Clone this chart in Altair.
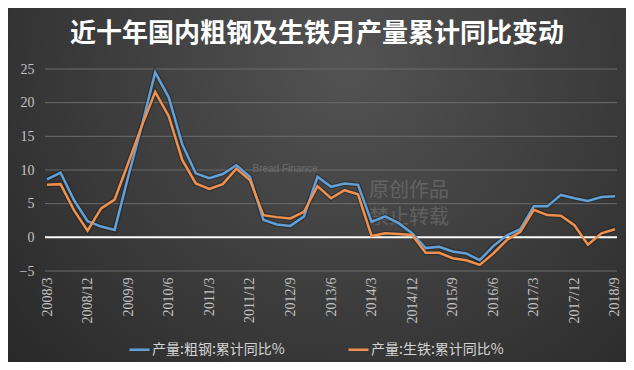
import altair as alt
import pandas as pd

title_text = "近十年国内粗钢及生铁月产量累计同比变动"
dates = [f"{y}/{m}" for y in range(2008, 2019) for m in (3, 6, 9, 12)][:43]
tick_labels = dates[::3]
steel_name = "产量:粗钢:累计同比%"
iron_name = "产量:生铁:累计同比%"
steel = [8.6, 9.6, 5.5, 2.4, 1.6, 1.1, 9.0, 16.5, 24.5, 20.8, 13.8, 9.5, 8.8, 9.4,
         10.7, 9.0, 2.6, 1.9, 1.7, 3.1, 9.0, 7.5, 8.0, 7.8, 2.3, 3.1, 2.1, 0.6,
         -1.6, -1.4, -2.1, -2.4, -3.4, -1.3, 0.3, 1.2, 4.6, 4.6, 6.3, 5.8, 5.4, 6.0, 6.1]
iron = [7.8, 7.9, 4.0, 1.0, 4.3, 5.6, 11.0, 16.5, 21.6, 18.0, 11.5, 8.0, 7.2, 7.9,
        10.2, 8.5, 3.3, 3.0, 2.8, 3.8, 7.6, 5.8, 7.0, 6.4, 0.2, 0.6, 0.5, 0.35,
        -2.3, -2.3, -3.1, -3.4, -4.1, -2.4, -0.4, 0.8, 4.1, 3.3, 3.2, 1.8, -1.1, 0.6, 1.2]
y_ticks = [-5, 0, 5, 10, 15, 20, 25]
grid_values = [-5, 5, 10, 15, 20, 25]
watermark_1 = ["原创作品"]
watermark_2 = ["禁止转载"]
brand = ["Bread Finance"]

BLUE = "#62a0d8"
ORANGE = "#f0904e"

rows = []
for d, s, i in zip(dates, steel, iron):
    rows.append({"date": d, "series": steel_name, "value": s})
    rows.append({"date": d, "series": iron_name, "value": i})
df = pd.DataFrame(rows)

W, H = 572, 202
PL, PT, PR, PB = 37, 61, 9, 91

bg = alt.Chart(pd.DataFrame({"k": [0]})).mark_rect(
    fill={
        "gradient": "radial",
        "stops": [{"offset": 0, "color": "#535353"}, {"offset": 1, "color": "#262626"}],
        "x1": 0.55, "y1": 0.3, "r1": 0,
        "x2": 0.55, "y2": 0.3, "r2": 0.78,
    }
).encode(
    x=alt.value(-PL), x2=alt.value(W + PR), y=alt.value(-PT), y2=alt.value(H + PB)
)

title_layer = alt.Chart(pd.DataFrame({"t": [title_text]})).mark_text(
    font="Noto Sans CJK SC", fontSize=26, fontWeight="bold", color="#ffffff",
    align="center", baseline="middle"
).encode(x=alt.value(272), y=alt.value(-35), text="t:N")

wm1 = alt.Chart(pd.DataFrame({"t": watermark_1})).mark_text(
    font="Noto Sans CJK SC", fontSize=20, color="#ffffff", opacity=0.15,
    align="center", baseline="middle"
).encode(x=alt.value(364), y=alt.value(122), text="t:N")

wm2 = alt.Chart(pd.DataFrame({"t": watermark_2})).mark_text(
    font="Noto Sans CJK SC", fontSize=20, color="#ffffff", opacity=0.15,
    align="center", baseline="middle"
).encode(x=alt.value(364), y=alt.value(149), text="t:N")

wm3 = alt.Chart(pd.DataFrame({"t": brand})).mark_text(
    font="Liberation Sans", fontSize=10, color="#ffffff", opacity=0.18,
    align="center", baseline="middle"
).encode(x=alt.value(240), y=alt.value(100), text="t:N")

x_enc = alt.X(
    "date:O", sort=dates, scale=alt.Scale(type="point", padding=0.15),
    axis=alt.Axis(values=tick_labels, labelAngle=-90, title=None, ticks=False, domain=False,
                  grid=False, labelFont="Liberation Serif", labelFontSize=14,
                  labelColor="#c4c4c4", labelPadding=6, zindex=1),
)
y_enc = alt.Y(
    "value:Q", scale=alt.Scale(domain=[-5, 25], nice=False, zero=False),
    axis=alt.Axis(values=y_ticks, title=None, ticks=False, domain=False, grid=False,
                  labelFont="Liberation Serif", labelFontSize=14, labelColor="#c4c4c4",
                  labelPadding=11, zindex=1),
)

grid = alt.Chart(pd.DataFrame({"value": grid_values})).mark_rule(
    color="#6c6c6c", strokeWidth=1
).encode(y=y_enc)

shadow = alt.Chart(df).mark_line(strokeWidth=5, color="#151515", opacity=0.35).encode(
    x=x_enc, y=y_enc, detail="series:N"
)

lines = alt.Chart(df).mark_line(strokeWidth=2.5).encode(
    x=x_enc, y=y_enc,
    color=alt.Color(
        "series:N", sort=[steel_name, iron_name],
        scale=alt.Scale(domain=[steel_name, iron_name], range=[BLUE, ORANGE]),
        legend=alt.Legend(
            orient="none", legendX=83, legendY=269, direction="horizontal", title=None,
            symbolType="stroke", symbolStrokeWidth=2.5, symbolSize=400,
            labelFont="Noto Sans CJK SC", labelFontSize=14, labelColor="#d4d4d4",
            labelOffset=1, columnPadding=58,
        ),
    ),
)

zero = alt.Chart(pd.DataFrame({"value": [0]})).mark_rule(color="#ffffff", strokeWidth=2).encode(
    y=y_enc
)

chart = alt.layer(bg, title_layer, wm1, wm2, wm3, grid, shadow, zero, lines).resolve_scale(
    y="shared"
).properties(
    width=W, height=H,
    autosize=alt.AutoSizeParams(type="none"),
    padding={"left": PL, "top": PT, "right": PR, "bottom": PB},
    background="#333333",
).configure_view(strokeWidth=0)

chart.save("out.html", embed_options={"renderer": "svg", "actions": False})
